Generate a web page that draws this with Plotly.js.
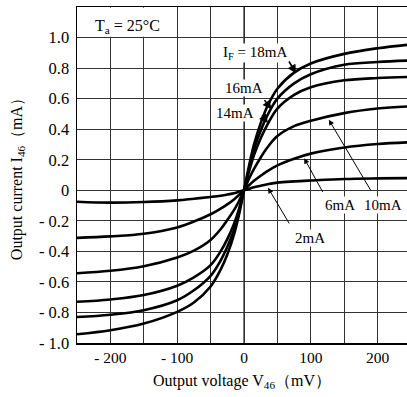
<!DOCTYPE html>
<html><head><meta charset="utf-8">
<script src="https://cdn.plot.ly/plotly-3.0.1.min.js"></script>
<style>body{margin:0;background:#fff}#c{width:407px;height:397px}</style>
</head><body><div id="c"></div>
<script>
// Output voltage V46 (mV)
const voltage = [-250,-200,-150,-100,-75,-50,-35,-25,-15,-8,0,8,15,25,35,50,75,100,150,200,250];
// Output current I46 (mA) per forward current IF
const i2mA  = [-0.075,-0.081,-0.077,-0.066,-0.055,-0.044,-0.036,-0.028,-0.02,-0.01,0,0.01,0.02,0.03,0.04,0.05,0.058,0.064,0.074,0.078,0.08];
const i6mA  = [-0.312,-0.302,-0.285,-0.243,-0.205,-0.157,-0.12,-0.092,-0.06,-0.033,0,0.035,0.062,0.095,0.125,0.163,0.207,0.24,0.28,0.303,0.315];
const i10mA = [-0.543,-0.527,-0.497,-0.44,-0.395,-0.325,-0.255,-0.195,-0.13,-0.075,0,0.08,0.14,0.215,0.28,0.355,0.42,0.455,0.505,0.535,0.55];
const i14mA = [-0.73,-0.715,-0.686,-0.625,-0.57,-0.49,-0.40,-0.32,-0.22,-0.13,0,0.13,0.23,0.34,0.43,0.535,0.625,0.675,0.72,0.735,0.742];
const i16mA = [-0.83,-0.815,-0.785,-0.72,-0.655,-0.56,-0.46,-0.37,-0.26,-0.15,0,0.15,0.27,0.39,0.49,0.60,0.70,0.76,0.822,0.84,0.85];
const i18mA = [-0.943,-0.917,-0.873,-0.796,-0.735,-0.63,-0.52,-0.42,-0.29,-0.17,0,0.17,0.30,0.44,0.55,0.665,0.77,0.83,0.893,0.93,0.955];
const seriesNames = ['2mA','6mA','10mA','14mA','16mA','18mA'];
const seriesData = [i2mA,i6mA,i10mA,i14mA,i16mA,i18mA];

const xTickVals = [-200,-100,0,100,200];
const xTickText = ['- 200','- 100','0','100','200'];
const xMinorVals = [-150,-50,50,150];
const yTickVals = [-1,-0.8,-0.6,-0.4,-0.2,0,0.2,0.4,0.6,0.8,1.0];
const yTickText = ['- 1.0','- 0.8','- 0.6','- 0.4','- 0.2','0','0.2','0.4','0.6','0.8','1.0'];

// curve labels: [text, x, y]
const labels = [
  ['I<sub>F</sub> = 18mA', 16, 0.90],
  ['16mA', 0, 0.67],
  ['14mA', -13, 0.505],
  ['6mA', 144, -0.097],
  ['10mA', 208, -0.097],
  ['2mA', 99, -0.31]
];
// leader arrows: [tailX, tailY, headX, headY, width]
const leaders = [
  [66, 0.853, 78, 0.765, 1.6],
  [29, 0.60, 41, 0.53, 1.6],
  [25, 0.50, 36, 0.44, 1.6],
  [191, -0.01, 127, 0.462, 1],
  [119, -0.02, 90, 0.21, 1],
  [69, -0.227, 36, 0.016, 1]
];

const fam = 'Liberation Serif, Times New Roman, serif';
const font = {family:fam, size:15, color:'#000'};
const titleFont = {family:fam, size:16, color:'#000'};
const xTickFont = {family:fam, size:15.5, color:'#000'};
const yTickFont = {family:fam, size:16.5, color:'#000'};
const traces = seriesData.map((d,i)=>({
  x: voltage, y: d, name: seriesNames[i], type:'scatter', mode:'lines',
  line:{color:'#000', width:2.6, shape:'spline', smoothing:1}, hoverinfo:'skip'
}));

const annotations = [];
labels.forEach(l=>annotations.push({x:l[1], y:l[2], xref:'x', yref:'y', text:l[0], showarrow:false,
  font:font, bgcolor:'#fff', borderpad:0}));
leaders.forEach(a=>annotations.push({x:a[2], y:a[3], ax:a[0], ay:a[1], xref:'x', yref:'y', axref:'x', ayref:'y',
  text:'', showarrow:true, arrowhead:2, arrowsize:1.1, arrowwidth:a[4], arrowcolor:'#000', standoff:0, startstandoff:0}));
annotations.push({x:-175, y:1.07, xref:'x', yref:'y', text:'T<sub>a</sub> = 25°C', showarrow:false, font:titleFont});

const layout = {
  width:407, height:397,
  margin:{l:77, r:0, t:7, b:54},
  paper_bgcolor:'#fff', plot_bgcolor:'#fff',
  showlegend:false,
  font:font,
  xaxis:{range:[-250,244], tickvals:xTickVals, ticktext:xTickText, showgrid:true, gridcolor:'#333', gridwidth:1,
    minor:{tickvals:xMinorVals, showgrid:true, gridcolor:'#333', gridwidth:1, ticks:''},
    zeroline:false, showline:true, linecolor:'#000', linewidth:1.5, mirror:true, ticks:'', ticklen:0,
    tickfont:xTickFont, title:{text:'Output voltage V<sub>46</sub>（mV）', font:titleFont, standoff:9}},
  yaxis:{range:[-1.0,1.2], tickvals:yTickVals, ticktext:yTickText, showgrid:true, gridcolor:'#333', gridwidth:1,
    zeroline:false, showline:true, linecolor:'#000', linewidth:1.5, mirror:false, ticks:'', ticklen:0,
    ticklabelstandoff:3, tickfont:yTickFont, title:{text:'Output current I<sub>46</sub>（mA）', font:titleFont, standoff:12}},
  shapes:[
    {type:'rect', xref:'x', yref:'y', x0:-249, x1:-112, y0:1.006, y1:1.195, fillcolor:'#fff', line:{width:0}, layer:'above'},
    {type:'line', xref:'x', yref:'y', x0:0, x1:0, y0:-1, y1:1.2, line:{color:'#777', width:2}, layer:'below'}
  ],
  annotations:annotations
};
Plotly.newPlot('c', traces, layout, {staticPlot:true, displayModeBar:false});
</script></body></html>
